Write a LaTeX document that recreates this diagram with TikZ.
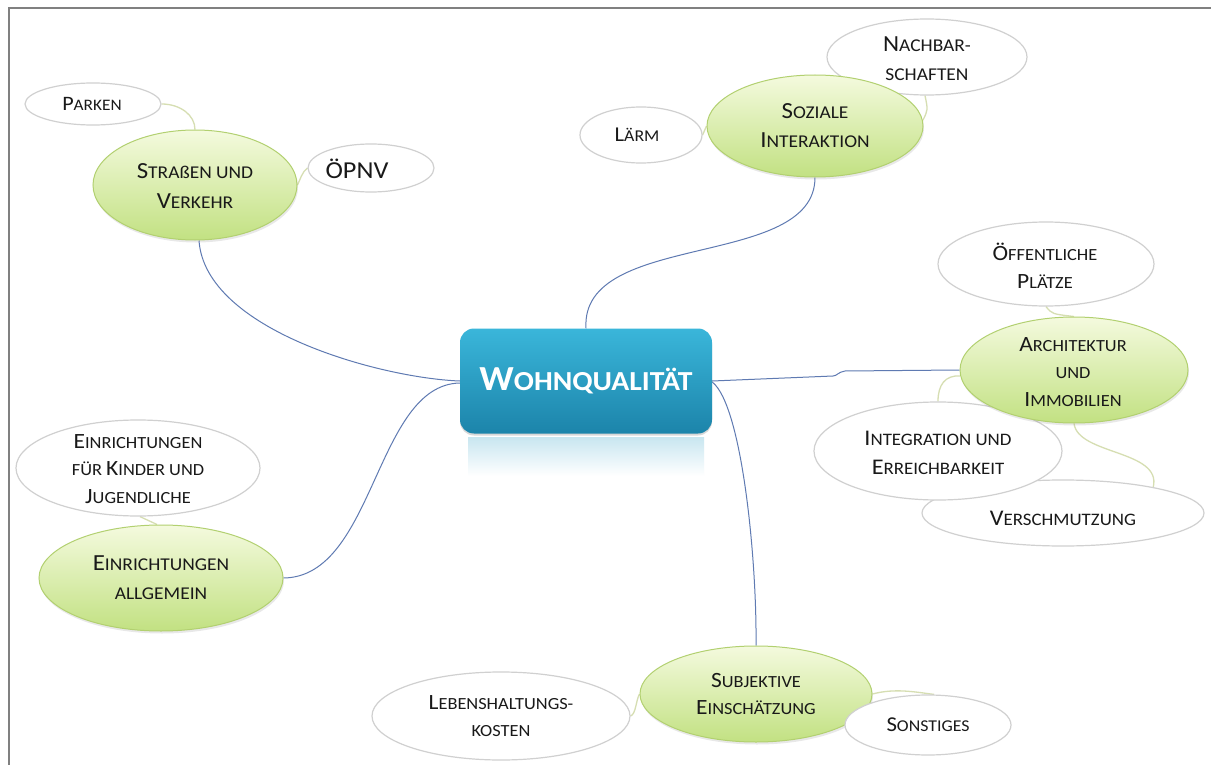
\documentclass[tikz,border=0pt]{standalone}
\usepackage{fontspec}
\setmainfont{Carlito}[FakeStretch=1.08]
\usetikzlibrary{shapes.geometric,shadows}
\pgfdeclarelayer{bg}
\pgfsetlayers{bg,main}

\definecolor{bluel}{RGB}{95,122,178}
\definecolor{thinl}{RGB}{214,222,178}
\definecolor{wborder}{RGB}{208,208,208}
\definecolor{gborder}{RGB}{178,208,112}
\definecolor{gtop}{RGB}{244,250,222}
\definecolor{gbot}{RGB}{194,225,130}
\definecolor{btop}{RGB}{58,182,218}
\definecolor{bbot}{RGB}{28,132,170}
\definecolor{refl}{RGB}{200,230,240}
\definecolor{framec}{RGB}{128,128,128}
\definecolor{txtc}{RGB}{25,25,25}

\newlength\capsz
\newlength\mybsk
\newcommand\sz[1]{\setlength\capsz{1.28\dimexpr#1pt\relax}\setlength\mybsk{1.62\dimexpr#1pt\relax}\fontsize{#1pt}{\mybsk}\selectfont}
\newcommand\Cap[1]{{\fontsize{\capsz}{\mybsk}\selectfont #1}}

\tikzset{
  whiteell/.style={ellipse, draw=wborder, line width=1.2pt, fill=white, inner sep=0pt},
  greenell/.style={ellipse, draw=gborder, line width=1pt, top color=gtop, bottom color=gbot, inner sep=0pt,
    drop shadow={opacity=0.18, shadow xshift=1pt, shadow yshift=-2.5pt}},
  lbl/.style={align=center, text=txtc, inner sep=0pt, font=\sz{#1}},
  blueline/.style={draw=bluel, line width=1pt},
  thinline/.style={draw=thinl, line width=1.3pt},
  centerbox/.style={rectangle, rounded corners=14pt, top color=btop, bottom color=bbot, draw=none,
    minimum width=252pt, minimum height=105pt, text=white,
    drop shadow={opacity=0.3, shadow xshift=0pt, shadow yshift=-2pt}},
}

\begin{document}
\begin{tikzpicture}[x=1pt,y=-1pt]
\useasboundingbox (0,0) rectangle (1211,765);
\draw[framec, line width=2pt] (9,766) -- (9,8) -- (1212,8);

% central node with reflection
\shade[top color=refl, bottom color=white] (468,437) rectangle (704,476);
\node[centerbox] (ctr) at (586,381) {\sz{27.5}\bfseries\Cap{W}OHNQUALITÄT};

% white sub-topic ellipses and green topic ellipses (stacking order as in reference)
\node[whiteell, minimum width=136pt, minimum height=42pt] (park) at (93,104) {};
\node[whiteell, minimum width=126pt, minimum height=48pt] (opnv) at (371,168) {};
\node[greenell, minimum width=204pt, minimum height=110pt] (str) at (195,185) {};

\node[whiteell, minimum width=200pt, minimum height=76pt] (nach) at (927,57) {};
\node[whiteell, minimum width=122pt, minimum height=56pt] (laerm) at (641,135) {};
\node[greenell, minimum width=216pt, minimum height=102pt] (soz) at (815,126) {};

\node[whiteell, minimum width=216pt, minimum height=84pt] (oef) at (1046,264) {};
\node[whiteell, minimum width=282pt, minimum height=66pt] (versch) at (1063,513) {};
\node[whiteell, minimum width=248pt, minimum height=98pt] (int) at (938,451) {};
\node[greenell, minimum width=228pt, minimum height=106pt] (arc) at (1074,370) {};

\node[whiteell, minimum width=244pt, minimum height=96pt] (kinder) at (138,468) {};
\node[greenell, minimum width=244pt, minimum height=106pt] (einr) at (161,578) {};

\node[whiteell, minimum width=258pt, minimum height=88pt] (leben) at (501,716) {};
\node[greenell, minimum width=232pt, minimum height=96pt] (subj) at (756,694) {};
\node[whiteell, minimum width=166pt, minimum height=60pt] (sonst) at (928,725) {};

% labels
\node[lbl=16] (tpark) at (92,104) {\Cap{P}ARKEN};
\node[lbl=19] (topnv) at (357,169) {\Cap{ÖPNV}};
\node[lbl=18] (tstr) at (195,186) {\Cap{S}TRAßEN UND\\\Cap{V}ERKEHR};
\node[lbl=18] (tnach) at (927,59) {\Cap{N}ACHBAR-\\SCHAFTEN};
\node[lbl=16.5] (tlaerm) at (637,135) {\Cap{L}ÄRM};
\node[lbl=18] (tsoz) at (815,126) {\Cap{S}OZIALE\\\Cap{I}NTERAKTION};
\node[lbl=17] (toef) at (1045,266) {\Cap{Ö}FFENTLICHE\\\Cap{P}LÄTZE};
\node[lbl=17] (tarc) at (1073,372) {\Cap{A}RCHITEKTUR\\UND\\\Cap{I}MMOBILIEN};
\node[lbl=17.5] (tint) at (938,453) {\Cap{I}NTEGRATION UND\\\Cap{E}RREICHBARKEIT};
\node[lbl=17.5] (tversch) at (1063,518) {\Cap{V}ERSCHMUTZUNG};
\node[lbl=17] (tkinder) at (138,469) {\Cap{E}INRICHTUNGEN\\FÜR \Cap{K}INDER UND\\\Cap{J}UGENDLICHE};
\node[lbl=18] (teinr) at (161,578) {\Cap{E}INRICHTUNGEN\\ALLGEMEIN};
\node[lbl=17] (tleben) at (501,716) {\Cap{L}EBENSHALTUNGS-\\KOSTEN};
\node[lbl=17] (tsubj) at (756,694) {\Cap{S}UBJEKTIVE\\\Cap{E}INSCHÄTZUNG};
\node[lbl=16.5] (tsonst) at (928,725) {\Cap{S}ONSTIGES};

% connectors (behind the ellipses)
\begin{pgfonlayer}{bg}
\fill[white] (0,0) rectangle (1211,765);
\draw[blueline] (ctr.north) .. controls (580,230) and (815,270) .. (soz.south);
\draw[blueline] (ctr.west) .. controls (380,378) and (205,330) .. ([xshift=4pt]str.south);
\draw[blueline] ([yshift=-2pt]ctr.west) .. controls (375,385) and (375,577) .. (einr.east);
\draw[blueline] (ctr.east) -- (833,376) .. controls (837,376) and (838,372) .. (845,371) -- (arc.west);
\draw[blueline] ([yshift=-1pt]ctr.east) .. controls (742,405) and (757,560) .. (subj.north);

\draw[thinline] (park.east) .. controls (180,104) and (195,115) .. (str.north);
\draw[thinline] (opnv.west) .. controls (302,172) and (300,180) .. (str.east);
\draw[thinline] (laerm.east) .. controls (705,131) .. (soz.west);
\draw[thinline] ([xshift=-2pt]nach.south) .. controls (928,110) .. (soz.3);
\draw[thinline] (oef.south) .. controls (1052,314) .. (arc.north);
\draw[thinline] (int.north) .. controls (938,385) and (945,375) .. (arc.183);
\draw[thinline] (arc.south) .. controls (1078,455) and (1162,450) .. (versch.16);
\draw[thinline] ([xshift=2pt]kinder.south) .. controls (148,520) .. ([xshift=-4pt]einr.north);
\draw[thinline] (leben.east) .. controls (636,714) and (636,700) .. (subj.west);
\draw[thinline] (subj.east) .. controls (895,688) and (915,692) .. ([xshift=6pt]sonst.north);
\end{pgfonlayer}
\end{tikzpicture}
\end{document}
